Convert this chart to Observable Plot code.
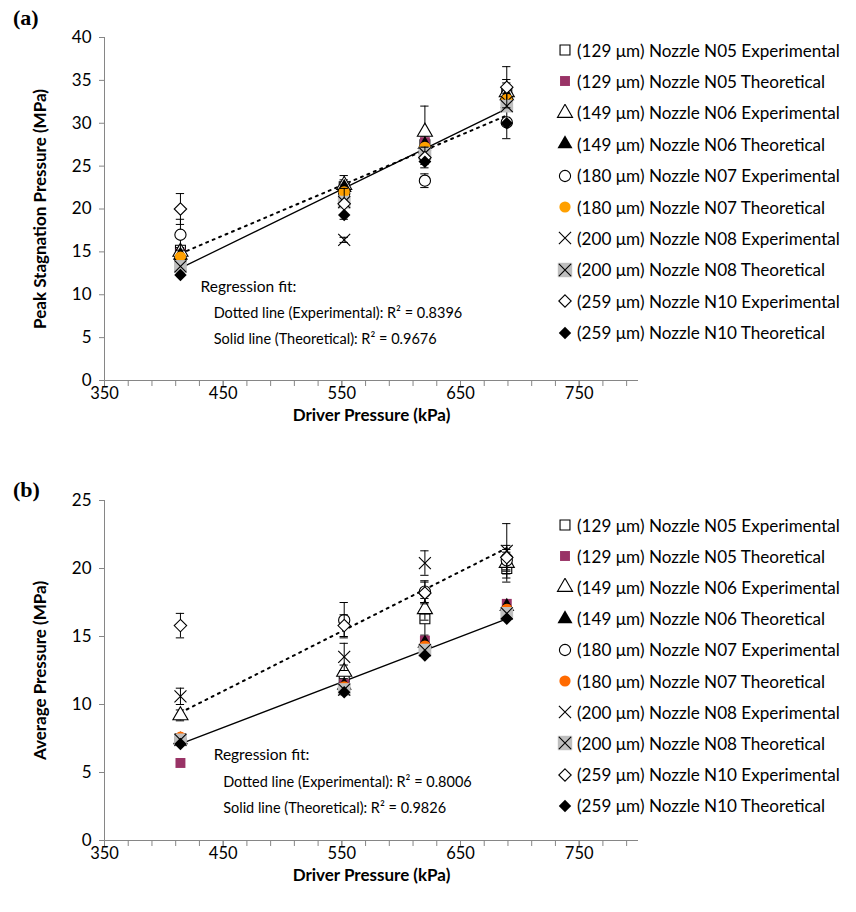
<!DOCTYPE html>
<html><head><meta charset="utf-8">
<script src="https://cdn.jsdelivr.net/npm/d3@7"></script>
<script src="https://cdn.jsdelivr.net/npm/@observablehq/plot@0.6"></script>
<style>
body{margin:0;background:#fff;}
#wrap{position:relative;width:856px;height:912px;background:#fff;font-family:Lato,"Open Sans",sans-serif;color:#000;}
.plabel{position:absolute;font-family:"Liberation Serif",serif;font-weight:bold;font-size:22px;line-height:22px;}
.lrow{position:absolute;left:556px;height:18px;display:flex;align-items:center;white-space:nowrap;font-size:17.1px;}
.lrow svg{margin-right:3px;}
</style></head><body><div id="wrap"></div>
<script>
// ---------- data ----------
const driverPressure = [414, 552, 620, 689]; // kPa
const seriesLabels = [
  "(129 μm) Nozzle N05 Experimental", "(129 μm) Nozzle N05 Theoretical",
  "(149 μm) Nozzle N06 Experimental", "(149 μm) Nozzle N06 Theoretical",
  "(180 μm) Nozzle N07 Experimental", "(180 μm) Nozzle N07 Theoretical",
  "(200 μm) Nozzle N08 Experimental", "(200 μm) Nozzle N08 Theoretical",
  "(259 μm) Nozzle N10 Experimental", "(259 μm) Nozzle N10 Theoretical"
];
const xTickLabels = [350, 450, 550, 650, 750];
// (a) Peak stagnation pressure, MPa
const peakN05Exp  = [15.2, 22.6, 27.5, 33.5];
const peakN05Theo = [14.8, 22.3, 27.8, 33.0];
const peakN06Exp  = [15.0, 22.8, 29.0, 33.6];
const peakN06Theo = [14.6, 22.5, 27.5, 33.2];
const peakN07Exp  = [17.0, 21.8, 23.3, 30.1];
const peakN07Theo = [14.4, 22.0, 27.2, 32.8];
const peakN08Exp  = [13.5, 16.4, 26.2, 32.5];
const peakN08Theo = [13.3, 20.8, 26.5, 32.0];
const peakN10Exp  = [20.0, 20.6, 26.0, 34.2];
const peakN10Theo = [12.3, 19.3, 25.5, 30.0];
// error half-ranges (experimental), MPa
const peakN05Err = [0.5, 0.8, 1.0, 1.2];
const peakN06Err = [0.5, 1.1, 3.0, 1.5];
const peakN07Err = [1.8, 1.0, 0.8, 1.9];
const peakN08Err = [0.4, 0.3, 1.0, 1.0];
const peakN10Err = [1.8, 1.8, 1.2, 2.4];
// (b) Average pressure, MPa
const avgN05Exp  = [7.5, 12.0, 16.3, 20.0];
const avgN05Theo = [5.7, 11.5, 14.7, 17.4];
const avgN06Exp  = [9.2, 12.4, 17.0, 20.4];
const avgN06Theo = [7.4, 11.4, 14.5, 17.2];
const avgN07Exp  = [7.4, 16.2, 18.3, 20.6];
const avgN07Theo = [7.6, 11.3, 14.3, 17.0];
const avgN08Exp  = [10.6, 13.5, 20.4, 21.3];
const avgN08Theo = [7.4, 11.1, 14.0, 16.7];
const avgN10Exp  = [15.8, 15.8, 18.2, 20.8];
const avgN10Theo = [7.1, 10.9, 13.6, 16.3];
const avgN05Err = [0.3, 0.5, 1.2, 1.0];
const avgN06Err = [0.4, 0.5, 0.8, 0.8];
const avgN07Err = [0.3, 1.3, 0.8, 0.8];
const avgN08Err = [0.6, 1.0, 0.9, 2.0];
const avgN10Err = [0.9, 0.8, 0.8, 0.9];
// regression fit lines (endpoints at first/last driver pressure)
const fitRange = [414, 689];
const peakFitExp = [14.8, 30.9], peakFitTheo = [13.1, 31.7];
const avgFitExp = [9.4, 21.5], avgFitTheo = [7.1, 16.3];
const peakR2 = ["0.8396", "0.9676"];
const avgR2 = ["0.8006", "0.9826"];

// ---------- styles ----------
const purple = "#993366";
const styles = [
  {symbol: "square", fill: "white", stroke: "black"},
  {symbol: "square", fill: purple, stroke: "none"},
  {symbol: "triangle", fill: "white", stroke: "black"},
  {symbol: "triangle", fill: "black", stroke: "none"},
  {symbol: "circle", fill: "white", stroke: "black"},
  {symbol: "circle", fill: "ORANGE", stroke: "none"},
  {symbol: "times", fill: "none", stroke: "black"},
  {symbol: "times", fill: "none", stroke: "black", bg: "#bfbfbf"},
  {symbol: "diamond2", fill: "white", stroke: "black"},
  {symbol: "diamond2", fill: "black", stroke: "none"}
];

const wrap = document.getElementById("wrap");

function makePanel(cfg) {
  const series = cfg.values.map((vals, s) => driverPressure.map((x, i) => ({
    x, y: vals[i], err: s % 2 === 0 ? cfg.errors[s / 2][i] : null
  })));
  const marks = [
    Plot.ruleY([0], {stroke: "#868686"}),
    Plot.ruleX([350], {stroke: "#868686"}),
    Plot.axisX({ticks: d3.range(350, 800, 20), tickSize: 6, stroke: "#868686", tickFormat: () => "", label: null}),
    Plot.axisX({ticks: xTickLabels, tickSize: 6, tickPadding: 1, stroke: "#868686", fontSize: 16.5, label: null}),
    Plot.axisY({ticks: d3.range(0, cfg.ymax + 1, 5), tickSize: 5, tickPadding: 8, stroke: "#868686", fontSize: 17, label: null}),
    Plot.text(["Driver Pressure (kPa)"], {frameAnchor: "bottom", lineAnchor: "middle", textAnchor: "middle", dy: 35, fontWeight: "bold", fontSize: 17}),
    Plot.text([cfg.ytitle], {frameAnchor: "left", textAnchor: "middle", lineAnchor: "middle", dx: -64, rotate: -90, fontWeight: "bold", fontSize: 17})
  ];
  // regression lines
  const fitE = fitRange.map((x, i) => ({x, y: cfg.fitExp[i]}));
  const fitT = fitRange.map((x, i) => ({x, y: cfg.fitTheo[i]}));
  marks.push(Plot.line(fitE, {x: "x", y: "y", stroke: "black", strokeWidth: 2, strokeDasharray: "2,5"}));
  marks.push(Plot.line(fitT, {x: "x", y: "y", stroke: "black", strokeWidth: 1.3}));
  // series
  series.forEach((rows, s) => {
    const st = styles[s];
    const errRows = rows.filter(d => d.err != null);
    if (errRows.length) {
      marks.push(Plot.ruleX(errRows, {x: "x", y1: d => d.y - d.err, y2: d => d.y + d.err, stroke: "black", strokeWidth: 1}));
      marks.push(Plot.ruleY(errRows, {y: d => d.y + d.err, x1: d => d.x - 3.5, x2: d => d.x + 3.5, stroke: "black"}));
      marks.push(Plot.ruleY(errRows, {y: d => d.y - d.err, x1: d => d.x - 3.5, x2: d => d.x + 3.5, stroke: "black"}));
    }
    if (st.bg) marks.push(Plot.dot(rows, {x: "x", y: "y", symbol: "square", r: 7.2, fill: st.bg, stroke: "none"}));
    const fill = st.fill === "ORANGE" ? cfg.orange : st.fill;
    marks.push(Plot.dot(rows, {x: "x", y: "y", symbol: st.symbol, r: st.symbol === "times" ? 5.5 : 5.6, fill, stroke: st.stroke, strokeWidth: 1.1}));
  });
  // annotation
  const a = cfg.annot;
  marks.push(Plot.text(["Regression fit:"], {x: a.x0, y: a.y[0], textAnchor: "start", fontSize: 15.5}));
  marks.push(Plot.text([`Dotted line (Experimental): R² = ${cfg.r2[0]}`], {x: a.x1, y: a.y[1], textAnchor: "start", fontSize: 14.5}));
  marks.push(Plot.text([`Solid line (Theoretical): R² = ${cfg.r2[1]}`], {x: a.x1, y: a.y[2], textAnchor: "start", fontSize: 14.5}));

  const chart = Plot.plot({
    width: 660, height: cfg.height,
    marginLeft: 104, marginRight: 22, marginTop: 37, marginBottom: 45,
    style: {fontFamily: "Lato, 'Open Sans', sans-serif", background: "white", color: "black", overflow: "visible"},
    x: {domain: [350, 800]},
    y: {domain: [0, cfg.ymax]},
    marks
  });
  chart.style.position = "absolute";
  chart.style.left = "0px";
  chart.style.top = cfg.top + "px";
  wrap.appendChild(chart);

  // panel label
  const pl = document.createElement("div");
  pl.className = "plabel";
  pl.textContent = cfg.tag;
  pl.style.left = "13px"; pl.style.top = (cfg.labelTop) + "px";
  wrap.appendChild(pl);

  // legend
  const symMap = {square: d3.symbolSquare, triangle: d3.symbolTriangle, circle: d3.symbolCircle, times: d3.symbolTimes, diamond2: d3.symbolDiamond2};
  seriesLabels.forEach((lab, s) => {
    const st = styles[s];
    const row = document.createElement("div");
    row.className = "lrow";
    row.style.top = (cfg.legendTop + s * cfg.legendStep - 9) + "px";
    const svg = d3.create("svg").attr("width", 18).attr("height", 18);
    const g = svg.append("g").attr("transform", "translate(9,9)");
    if (st.bg) g.append("rect").attr("x", -7.2).attr("y", -7.2).attr("width", 14.4).attr("height", 14.4).attr("fill", st.bg);
    const size = Math.PI * 5.6 * 5.6;
    g.append("path").attr("d", d3.symbol(symMap[st.symbol], size)())
      .attr("fill", st.fill === "ORANGE" ? cfg.orange : st.fill)
      .attr("stroke", st.stroke).attr("stroke-width", 1.1);
    row.appendChild(svg.node());
    const t = document.createElement("span");
    t.textContent = lab;
    row.appendChild(t);
    wrap.appendChild(row);
  });
}

makePanel({
  tag: "(a)", top: 0, height: 425, ymax: 40, labelTop: 7,
  ytitle: "Peak Stagnation Pressure (MPa)",
  values: [peakN05Exp, peakN05Theo, peakN06Exp, peakN06Theo, peakN07Exp, peakN07Theo, peakN08Exp, peakN08Theo, peakN10Exp, peakN10Theo],
  errors: [peakN05Err, peakN06Err, peakN07Err, peakN08Err, peakN10Err],
  fitExp: peakFitExp, fitTheo: peakFitTheo, r2: peakR2,
  orange: "#FFA000",
  annot: {x0: 431, x1: 442, y: [10.85, 7.8, 4.8]},
  legendTop: 50, legendStep: 31.4
});
makePanel({
  tag: "(b)", top: 463, height: 422, ymax: 25, labelTop: 479,
  ytitle: "Average Pressure (MPa)",
  values: [avgN05Exp, avgN05Theo, avgN06Exp, avgN06Theo, avgN07Exp, avgN07Theo, avgN08Exp, avgN08Theo, avgN10Exp, avgN10Theo],
  errors: [avgN05Err, avgN06Err, avgN07Err, avgN08Err, avgN10Err],
  fitExp: avgFitExp, fitTheo: avgFitTheo, r2: avgR2,
  orange: "#FF6A00",
  annot: {x0: 442, x1: 450, y: [6.3, 4.26, 2.35]},
  legendTop: 525, legendStep: 31.2
});
</script></body></html>
